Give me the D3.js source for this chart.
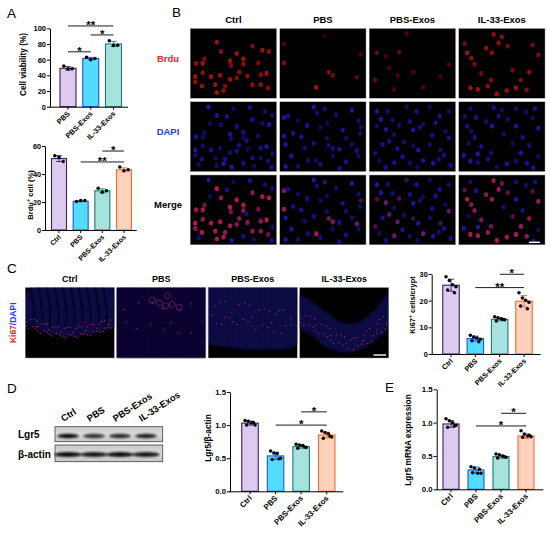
<!DOCTYPE html>
<html><head><meta charset="utf-8">
<script src="https://cdn.jsdelivr.net/npm/d3@7"></script>
<style>body{margin:0;background:#fff}svg text{font-family:Arial,"Liberation Sans",Helvetica,sans-serif}</style>
</head><body><svg id="fig" width="550" height="534"></svg>
<script>
// ---------------- data ----------------
const cats4 = ["Ctrl","PBS","PBS-Exos","IL-33-Exos"];
const catsA = ["PBS","PBS-Exos","IL-33-Exos"];
const bRows = ["Brdu","DAPI","Merge"];

const viabilityMean = [49, 61.5, 80];
const viabilityPts  = [[52,48,48.5],[63,60,61.5],[84,78,78.5]];
const viabilitySig  = [[0,1,70,"*"],[0,2,103,"**"],[1,2,91.5,"*"]];
const viabilityTicks = [0,20,40,60,80,100];

const brduMean = [51, 20.5, 28, 43];
const brduPts  = [[53,52,49],[20.4,21,21],[29.8,27,28],[45,42.3,43]];
const brduSig  = [[1,3,48.6,"**"],[2,3,56.4,"*"]];
const brduTicks = [0,20,40,60];

const ki67Mean = [25.8, 5.8, 13, 19.8];
const ki67Pts  = [[29,27.6,26,25.2,24,23],[7,6.4,6,5.5,5,4.6],[14,13.6,13.2,12.8,12.4,12.9],[23,21,20.2,19.4,18,17]];
const ki67Sig  = [[1,3,24.9,"**"],[2,3,29.9,"*"]];
const ki67Ticks = [0,10,20,30];

const protMean = [1.03, 0.535, 0.675, 0.85];
const protPts  = [[1.07,1.06,1.03,1.0,1.0,1.04],[0.61,0.58,0.57,0.50,0.48,0.49],[0.71,0.70,0.69,0.66,0.65,0.67],[0.91,0.89,0.87,0.82,0.80,0.83]];
const protSig  = [[1,3,1.0,"*"],[2,3,1.2,"*"]];
const mrnaMean = [0.98, 0.29, 0.49, 0.80];
const mrnaPts  = [[1.06,1.03,1.0,0.96,0.93,0.95],[0.34,0.32,0.24,0.24,0.25,0.30],[0.53,0.52,0.50,0.48,0.47,0.49],[0.88,0.83,0.80,0.79,0.78,0.81]];
const mrnaSig  = [[1,3,0.95,"*"],[2,3,1.14,"*"]];
const ratioTicks = [0,0.5,1.0,1.5];

const lgr5Band  = [1.0, 0.8, 0.85, 0.9];
const actinBand = [1.0, 0.95, 1.0, 0.95];

// nuclei for panel B: [x%, y%, Brdu intensity]
const cellsCtrl = [[30,18,1],[35,32,.9],[54,35,1],[15,43,.8],[5,50,.9],[13,50,1],[46,46,1],[47,53,.8],[62,43,1],[62,51,.9],[73,24,.8],[85,30,1],[93,32,.9],[80,49,.8],[57,63,.9],[34,68,1],[23,70,1],[13,64,.9],[4,70,1],[4,78,.9],[12,84,1],[28,82,1],[40,84,.8],[30,94,1],[38,91,.9],[46,74,1],[54,72,.8],[67,69,.9],[83,67,.8],[83,82,.9],[90,65,1],[92,87,.8],[73,82,.9],
  [50,8,0],[70,6,0],[88,12,0],[20,5,0],[97,18,0],[62,90,0],[75,95,0],[96,96,0],[97,76,0],[48,96,0],[8,92,0],[66,56,0],[22,30,0],[42,20,0]];
const cellsPBS = [[39,5,0],[43,14,0],[8,19,0],[20,26,0],[31,33,0],[66,17,0],[85,10,0],[93,26,0],[14,45,0],[47,36,0],[74,40,0],[95,45,0],[5,62,0],[28,67,0],[39,60,0],[55,52,0],[70,69,0],[85,62,0],[12,79,0],[32,86,0],[47,92,0],[62,79,0],[78,88,0],[93,79,0],[5,95,0],[20,95,0],[70,98,0],[55,29,0],[24,50,0],[78,52,0],
  [3,49,.8],[57,63,.8],[62,68,.7],[42,86,1],[91,71,.6],[96,36,.5],[3,21,.5],[52,8,.3]];
const cellsPBSExos = [[7,12,0],[20,12,0],[55,12,0],[71,5,0],[83,19,0],[94,12,0],[12,24,0],[26,25,0],[47,27,0],[63,31,0],[78,29,0],[28,47,0],[51,40,0],[59,36,0],[74,48,0],[90,42,0],[14,62,0],[40,58,0],[57,70,0],[71,62,0],[88,78,0],[10,86,0],[38,80,0],[47,90,0],[75,90,0],[82,84,0],[18,96,0],[56,96,0],[96,93,0],
  [7,34,.6],[18,39,.5],[34,33,.6],[22,57,.5],[51,63,.5],[32,68,.5],[5,75,.6],[63,86,.5],[84,70,.4],[94,52,.5],[43,5,.5],[28,89,.5]];
const cellsIL33 = [[12,87,1],[21,89,1],[33,84,.9],[44,96,1],[56,91,.9],[67,87,1],[73,75,.8],[83,63,.9],[40,6,.9],[50,10,.8],[46,19,.9],[57,24,.7],[38,34,.8],[31,27,.9],[8,34,1],[13,42,.9],[17,51,.8],[87,22,.7],[94,37,.8],[37,75,.8],[25,65,.7],[63,60,.7],[80,90,.8],[5,20,.7],
  [67,34,0],[79,13,0],[90,8,0],[10,60,0],[19,21,0],[12,8,0],[21,76,0],[52,46,0],[75,51,0],[94,80,0],[88,97,0],[67,8,0],[4,78,0]];
const cellSets = [cellsCtrl, cellsPBS, cellsPBSExos, cellsIL33];

// panel C tissue sketches (outline %, crypt-base line %, red dot count)
const tissueCtrl = {outline:[[8,0],[100,0],[100,56],[85,62],[65,68],[45,69],[25,64],[8,56],[0,50],[0,14]], crypt:[[1,48],[20,58],[40,63],[60,63],[80,58],[99,50]], nRed:60, spread:1.8, stripes:true};
const tissuePBS  = {outline:[[0,0],[100,0],[100,100],[0,100]], crypt:[[5,30],[30,40],[55,50],[80,45],[97,40]], nRed:14, spread:5, rings:[[48,22],[55,26],[62,24],[70,28],[40,18],[57,12]], dim:true};
const tissuePBSExos = {outline:[[0,0],[100,0],[100,80],[60,88],[20,84],[0,78]], crypt:[[3,40],[25,35],[50,42],[75,50],[97,42]], nRed:34, spread:4};
const tissueIL33 = {outline:[[0,12],[25,30],[45,48],[65,50],[85,30],[100,8],[100,55],[85,74],[68,88],[50,92],[30,84],[12,66],[0,58]], crypt:[[0,42],[18,54],[38,70],[55,80],[70,76],[86,60],[100,44]], nRed:48, spread:2};
const tissues = [tissueCtrl, tissuePBS, tissuePBSExos, tissueIL33];

// ---------------- drawing ----------------
const svg = d3.select("#fig");
const defs = svg.append("defs");
defs.append("filter").attr("id","soft").append("feGaussianBlur").attr("stdDeviation",0.4);
defs.append("filter").attr("id","band").attr("x","-50%").attr("y","-200%").attr("width","200%").attr("height","500%").append("feGaussianBlur").attr("stdDeviation",1.0);
defs.append("filter").attr("id","tb").append("feGaussianBlur").attr("stdDeviation",1.5);
const pat = defs.append("pattern").attr("id","tex").attr("patternUnits","userSpaceOnUse").attr("width",4.6).attr("height",4.6);
[[1,1,.5],[3.4,2.2,.45],[1.7,3.7,.4],[4,4.1,.35]].forEach(d=>pat.append("circle").attr("cx",d[0]).attr("cy",d[1]).attr("r",d[2]).attr("fill","#3a32d8").attr("opacity",.6));
const bg = defs.append("linearGradient").attr("id","blotbg").attr("x1",0).attr("y1",0).attr("x2",0).attr("y2",1);
bg.append("stop").attr("offset","0%").attr("stop-color","#c9c9c9");
bg.append("stop").attr("offset","50%").attr("stop-color","#dadada");
bg.append("stop").attr("offset","100%").attr("stop-color","#c6c6c6");

const F = 'Arial,"Liberation Sans",sans-serif';
function txt(x,y,s,o={}){
  const t = svg.append("text").attr("x",x).attr("y",y).text(s)
    .attr("font-size",o.fs||8).attr("font-weight",o.fw||"bold").attr("fill",o.fill||"#000")
    .attr("text-anchor",o.anchor||"start");
  if(o.rot!=null) t.attr("transform",`rotate(${o.rot},${x},${y})`);
  return t;
}
// panel letters
[["A",7,18],["B",172,17],["C",7,273],["D",7,393],["E",385,392]].forEach(d=>txt(d[1],d[2],d[0],{fs:13.5,fw:"normal"}));

const LAV=["#dccbee","#3b1e63"], CYAN=["#52dcff","#1e56dc"], TEAL=["#a7e3de","#1b7a78"], PEACH=["#ffd2be","#ff6a2a"];
const offs3=[-4.2,0,4.2], offs6=[-5,-1.7,1.7,5,-3.4,3.4];

function barChart(o){
  const g = svg.append("g");
  const y = d3.scaleLinear().domain([0,o.max]).range([o.yb,o.yt]);
  const x = d3.scalePoint().domain(o.cats).range([o.c0,o.c1]);
  o.cats.forEach((c,i)=>{
    const col=o.colors[i], m=o.means[i], pts=o.pts[i], sd=d3.deviation(pts);
    g.append("rect").attr("x",x(c)-o.bw/2).attr("y",y(m)).attr("width",o.bw).attr("height",o.yb-y(m))
      .attr("fill",col[0]).attr("stroke",col[1]).attr("stroke-width",1.1);
    g.append("line").attr("x1",x(c)).attr("x2",x(c)).attr("y1",y(m-sd)).attr("y2",y(m+sd)).attr("stroke",col[1]).attr("stroke-width",0.9);
    [m+sd,m-sd].forEach(v=>g.append("line").attr("x1",x(c)-3).attr("x2",x(c)+3).attr("y1",y(v)).attr("y2",y(v)).attr("stroke",col[1]).attr("stroke-width",0.9));
    const offs = pts.length===3?offs3:offs6;
    pts.forEach((v,j)=>g.append("circle").attr("cx",x(c)+offs[j]).attr("cy",y(v)).attr("r",1.75).attr("fill","#000"));
  });
  const ya = g.append("g").attr("transform",`translate(${o.ax},0)`)
    .call(d3.axisLeft(y).tickValues(o.ticks).tickSize(3).tickSizeOuter(0).tickFormat(o.fmt||d3.format("d")));
  ya.select(".domain").attr("stroke","#000").attr("stroke-width",1);
  ya.selectAll(".tick line").attr("stroke","#000").attr("stroke-width",1);
  ya.selectAll("text").attr("font-size",o.fs).attr("font-weight","bold").attr("fill","#000").attr("font-family",F).attr("x",-4);
  g.append("line").attr("x1",o.ax-0.5).attr("x2",o.axEnd).attr("y1",o.yb+0.5).attr("y2",o.yb+0.5).attr("stroke","#000").attr("stroke-width",1);
  o.cats.forEach(c=>{
    g.append("line").attr("x1",x(c)).attr("x2",x(c)).attr("y1",o.yb).attr("y2",o.yb+3).attr("stroke","#000").attr("stroke-width",1);
    const tx=x(c)+2.5, ty=o.yb+7.5;
    g.append("text").attr("x",tx).attr("y",ty).attr("text-anchor","end").attr("font-size",o.fsx).attr("font-weight","bold")
      .attr("transform",`rotate(-45,${tx},${ty})`).text(c);
  });
  o.sig.forEach(([a,b,v,s])=>{
    g.append("line").attr("x1",x(o.cats[a])).attr("x2",x(o.cats[b])).attr("y1",y(v)).attr("y2",y(v)).attr("stroke","#000").attr("stroke-width",0.9);
    g.append("text").attr("x",(x(o.cats[a])+x(o.cats[b]))/2).attr("y",y(v)+3).attr("text-anchor","middle").attr("font-size",11.5).attr("font-weight","bold").text(s);
  });
  const yl = g.append("text").attr("x",o.lx).attr("y",o.ly).attr("text-anchor","middle").attr("font-size",o.fsl).attr("font-weight","bold")
    .attr("transform",`rotate(-90,${o.lx},${o.ly})`);
  o.label.forEach(p=>{const ts=yl.append("tspan").text(p[0]); if(p[1]) ts.attr("baseline-shift","super").attr("font-size",o.fsl*0.7);});
}

barChart({cats:catsA,means:viabilityMean,pts:viabilityPts,sig:viabilitySig,colors:[LAV,CYAN,TEAL],max:100,ticks:viabilityTicks,
  ax:50,axEnd:128,yb:106.7,yt:28.3,c0:68,c1:113.5,bw:16,fs:7.5,fsx:7.3,fsl:8.2,lx:26,ly:64.5,label:[["Cell viability (%)"]]});
barChart({cats:cats4,means:brduMean,pts:brduPts,sig:brduSig,colors:[LAV,CYAN,TEAL,PEACH],max:60,ticks:brduTicks,
  ax:45,axEnd:136.7,yb:230,yt:146,c0:59,c1:124,bw:15,fs:7.3,fsx:7,fsl:7.6,lx:32.5,ly:195,label:[["Brdu"],["+",1],[" cell (%)"]]});
barChart({cats:cats4,means:ki67Mean,pts:ki67Pts,sig:ki67Sig,colors:[LAV,CYAN,TEAL,PEACH],max:30,ticks:ki67Ticks,
  ax:431.7,axEnd:540.7,yb:354,yt:274,c0:451,c1:524,bw:16.5,fs:7.3,fsx:7.2,fsl:7.4,lx:414.5,ly:305,label:[["Ki67"],["+",1],[" cells/crypt"]]});
barChart({cats:cats4,means:protMean,pts:protPts,sig:protSig,colors:[LAV,CYAN,TEAL,PEACH],max:1.5,ticks:ratioTicks,fmt:d3.format(".1f"),
  ax:230,axEnd:343.3,yb:491.3,yt:392,c0:250,c1:326.7,bw:16.5,fs:7.8,fsx:7.8,fsl:8.3,lx:211,ly:438,label:[["Lgr5/β-actin"]]});
barChart({cats:cats4,means:mrnaMean,pts:mrnaPts,sig:mrnaSig,colors:[LAV,CYAN,TEAL,PEACH],max:1.5,ticks:ratioTicks,fmt:d3.format(".1f"),
  ax:436.7,axEnd:543.3,yb:489.3,yt:389.3,c0:451,c1:526,bw:16,fs:7.8,fsx:7.8,fsl:8.3,lx:411,ly:440,label:[["Lgr5 mRNA expression"]]});

// ---------------- panel B: immunofluorescence grid ----------------
const bx = d3.scaleBand().domain(cats4).range([190,545.3]).paddingInner(0.03);
const by = d3.scaleBand().domain(bRows).range([28.3,245]).paddingInner(0.04);
cats4.forEach(c=>txt(bx(c)+bx.bandwidth()/2,23,c,{fs:9.5,anchor:"middle"}));
const rowCol = {Brdu:"#ff1a1a",DAPI:"#1f3cff",Merge:"#000"};
bRows.forEach(r=>txt(168,by(r)+by.bandwidth()/2-1.5,r,{fs:9.5,anchor:"middle",fill:rowCol[r]}));
const blueOp=[0.85,0.6,0.75,0.5,0.8,0.55];
cats4.forEach((c,ci)=>{
  bRows.forEach(r=>{
    const x0=bx(c), y0=by(r), w=bx.bandwidth(), h=by.bandwidth();
    const id=`clipB${ci}${r}`;
    defs.append("clipPath").attr("id",id).append("rect").attr("x",x0).attr("y",y0).attr("width",w).attr("height",h);
    const g=svg.append("g").attr("clip-path",`url(#${id})`);
    g.append("rect").attr("x",x0).attr("y",y0).attr("width",w).attr("height",h).attr("fill","#000");
    const sx=d3.scaleLinear().domain([0,100]).range([x0+2,x0+w-2]);
    const sy=d3.scaleLinear().domain([0,100]).range([y0+2,y0+h-2]);
    const gg=g.append("g").attr("filter","url(#soft)");
    cellSets[ci].forEach((d,k)=>{
      let fill, op;
      if(r==="Brdu"){ if(d[2]<=0) return; fill="#cc0e0e"; op=0.8*d[2]; }
      else if(r==="DAPI"){ fill="#2414bc"; op=blueOp[k%6]; }
      else { fill=d3.interpolateRgb("#2414bc","#dc1a6a")(d[2]); op=Math.max(blueOp[k%6],0.8*d[2]); }
      gg.append("ellipse").attr("cx",sx(d[0])).attr("cy",sy(d[1])).attr("rx",2.15).attr("ry",2.6)
        .attr("fill",fill).attr("opacity",op);
    });
    g.append("rect").attr("x",x0+0.25).attr("y",y0+0.25).attr("width",w-0.5).attr("height",h-0.5).attr("fill","none").attr("stroke","#bbb").attr("stroke-width",0.5);
  });
});
svg.append("line").attr("x1",529).attr("x2",540).attr("y1",242.3).attr("y2",242.3).attr("stroke","#fff").attr("stroke-width",1.4);

// ---------------- panel C: tissue sections ----------------
const cx = d3.scaleBand().domain(cats4).range([25,389]).paddingInner(0.02);
const cyTop=287.3, cH=71;
cats4.forEach(c=>txt(cx(c)+cx.bandwidth()/2,281.7,c,{fs:9,anchor:"middle"}));
const perturb=[0,0.6,-0.5,1,-0.9,0.3,-1,0.5];
cats4.forEach((c,ci)=>{
  const spec=tissues[ci], x0=cx(c), w=cx.bandwidth();
  const id=`clipC${ci}`;
  defs.append("clipPath").attr("id",id).append("rect").attr("x",x0).attr("y",cyTop).attr("width",w).attr("height",cH);
  const g=svg.append("g").attr("clip-path",`url(#${id})`);
  g.append("rect").attr("x",x0).attr("y",cyTop).attr("width",w).attr("height",cH).attr("fill","#000");
  const sx=d3.scaleLinear().domain([0,100]).range([x0,x0+w]);
  const sy=d3.scaleLinear().domain([0,100]).range([cyTop,cyTop+cH]);
  const closed=d3.line().x(d=>sx(d[0])).y(d=>sy(d[1])).curve(d3.curveCatmullRomClosed);
  g.append("path").attr("d",closed(spec.outline)).attr("fill",spec.dim?"#0a0638":"#0d0850").attr("opacity",0.8).attr("filter","url(#tb)");
  g.append("path").attr("d",closed(spec.outline)).attr("fill","url(#tex)").attr("opacity",spec.dim?0.38:0.5);
  if(spec.stripes){
    const arc=d3.line().x(d=>sx(d[0])).y(d=>sy(d[1])).curve(d3.curveBasis);
    d3.range(10,100,9).forEach(v=>g.append("path").attr("d",arc([[v-4,0],[v-1,20],[v+1,40],[v-1,56]])).attr("fill","none").attr("stroke","#03021a").attr("stroke-width",2).attr("opacity",0.85));
  }
  if(spec.rings){
    spec.rings.forEach(d=>g.append("circle").attr("cx",sx(d[0])).attr("cy",sy(d[1])).attr("r",3).attr("fill","none").attr("stroke","#a02680").attr("stroke-width",0.8).attr("opacity",0.65));
  }
  const open=d3.line().x(d=>sx(d[0])).y(d=>sy(d[1])).curve(d3.curveCatmullRom);
  const p=g.append("path").attr("d",open(spec.crypt)).attr("fill","none").attr("stroke","none");
  const node=p.node(), L=node.getTotalLength();
  for(let k=0;k<spec.nRed;k++){
    const t=L*(k+0.5)/spec.nRed, a=node.getPointAtLength(t), b=node.getPointAtLength(Math.min(L,t+0.5));
    const dx=b.x-a.x, dy=b.y-a.y, n=Math.hypot(dx,dy)||1;
    const off=perturb[k%8]*spec.spread*2.2 + perturb[(k*3)%8]*spec.spread;
    g.append("circle").attr("cx",a.x-dy/n*off).attr("cy",a.y+dx/n*off).attr("r",0.75).attr("fill","#dc1e68").attr("opacity",0.75);
  }
  g.append("rect").attr("x",x0+0.25).attr("y",cyTop+0.25).attr("width",w-0.5).attr("height",cH-0.5).attr("fill","none").attr("stroke","#bbb").attr("stroke-width",0.5);
});
svg.append("line").attr("x1",373.5).attr("x2",386).attr("y1",355).attr("y2",355).attr("stroke","#fff").attr("stroke-width",1.4);
const kl=svg.append("text").attr("x",16.5).attr("y",322.8).attr("text-anchor","middle").attr("font-size",8.5).attr("font-weight","bold").attr("transform","rotate(-90,16.5,322.8)");
kl.append("tspan").text("Ki67").attr("fill","#ff1a1a");
kl.append("tspan").text("/DAPI").attr("fill","#1f3cff");

// ---------------- panel D: western blot ----------------
const lane = d3.scalePoint().domain(cats4).range([68,146]);
svg.append("rect").attr("x",55).attr("y",426.7).attr("width",107.7).attr("height",15).attr("fill","url(#blotbg)").attr("stroke","#444").attr("stroke-width",0.8);
svg.append("rect").attr("x",55).attr("y",445).attr("width",107.7).attr("height",16.7).attr("fill","url(#blotbg)").attr("stroke","#444").attr("stroke-width",0.8);
cats4.forEach((c,i)=>{
  svg.append("ellipse").attr("cx",lane(c)).attr("cy",436).attr("rx",11).attr("ry",2.2).attr("fill","#0c0c0c").attr("opacity",lgr5Band[i]).attr("filter","url(#band)");
  svg.append("ellipse").attr("cx",lane(c)).attr("cy",454.5).attr("rx",13.5).attr("ry",2.5).attr("fill","#0c0c0c").attr("opacity",actinBand[i]).attr("filter","url(#band)");
  txt(lane(c)-4.5,422,c,{fs:9.3,rot:-33});
});
txt(18,437.5,"Lgr5",{fs:10});
txt(18,457.5,"β-actin",{fs:10});
</script></body></html>
